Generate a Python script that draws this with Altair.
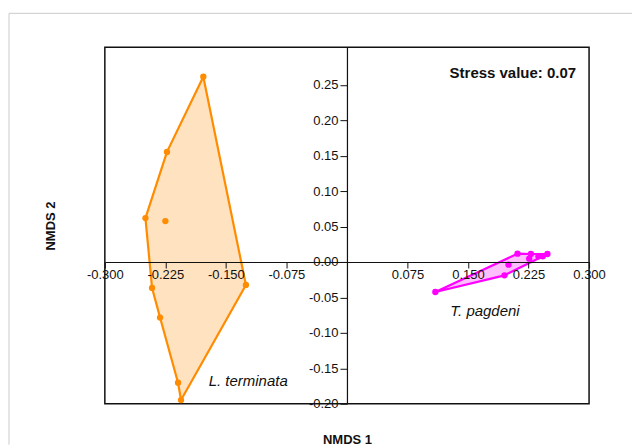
import altair as alt
import pandas as pd

# L. terminata points (NMDS1, NMDS2)
lt_x = [-0.178, -0.223, -0.2497, -0.225, -0.2415, -0.2316, -0.2093, -0.2056, -0.1252]
lt_y = [0.2615, 0.1554, 0.062, 0.0577, -0.0366, -0.0784, -0.1704, -0.1948, -0.0324]
lt_hull = [0, 1, 2, 4, 5, 6, 7, 8, 0]

# T. pagdeni points
tp_x = [0.1095, 0.1952, 0.2002, 0.2113, 0.2279, 0.2258, 0.2373, 0.2427, 0.2484]
tp_y = [-0.0423, -0.0188, -0.0038, 0.0117, 0.0113, 0.0047, 0.008, 0.008, 0.0113]
tp_hull = [0, 3, 4, 8, 1, 0]

x_ticks = [-0.3, -0.225, -0.15, -0.075, 0.075, 0.15, 0.225, 0.3]
y_ticks = [-0.2, -0.15, -0.1, -0.05, 0.0, 0.05, 0.1, 0.15, 0.2, 0.25]

ORANGE = "#ff8c00"
PINK = "#ff00ff"
FONT = "Arial"

W, H = 485, 357
X_DOM = [-0.3, 0.3]
Y_DOM = [-0.2, 0.303]


def hull_df(xs, ys, idx):
    return pd.DataFrame({"x": [xs[i] for i in idx], "y": [ys[i] for i in idx], "o": list(range(len(idx)))})


def pts_df(xs, ys):
    return pd.DataFrame({"x": xs, "y": ys})


y_zero_px = H * (Y_DOM[1] - 0) / (Y_DOM[1] - Y_DOM[0])
x_zero_px = W * (0 - X_DOM[0]) / (X_DOM[1] - X_DOM[0])

xenc = alt.X(
    "x:Q",
    scale=alt.Scale(domain=X_DOM, nice=False, zero=False),
    axis=alt.Axis(
        values=x_ticks, labelExpr="replace(format(datum.value, '.3f'), '\u2212', '-')",
        offset=-(H - y_zero_px), grid=False, title=None,
        domainColor="#111", tickColor="#111", labelColor="#111", labelFont=FONT,
        labelFontSize=13, tickSize=6, labelPadding=1, labelFlush=False,
        labelOverlap=False, zindex=1, domainWidth=1.2,
    ),
)
yenc = alt.Y(
    "y:Q",
    scale=alt.Scale(domain=Y_DOM, nice=False, zero=False),
    axis=alt.Axis(
        values=y_ticks, tickCount=len(y_ticks),
        labelExpr="replace(format(datum.value, '.2f'), '\u2212', '-')",
        offset=-x_zero_px, grid=False, title=None,
        domainColor="#111", tickColor="#111", labelColor="#111", labelFont=FONT,
        labelFontSize=13, tickSize=7, labelPadding=2, labelFlush=False,
        labelOverlap=False, zindex=1, domainWidth=1.2,
    ),
)

one = pd.DataFrame({"t": ["a"]})

frame_top = alt.Chart(one).mark_rule(color="#cccccc", strokeWidth=1).encode(
    x=alt.value(-96), x2=alt.value(528), y=alt.value(-34))
frame_left = alt.Chart(one).mark_rule(color="#cccccc", strokeWidth=1).encode(
    x=alt.value(-96), y=alt.value(-34), y2=alt.value(398))

lt_poly = alt.Chart(hull_df(lt_x, lt_y, lt_hull)).mark_line(
    stroke=ORANGE, fill=ORANGE, fillOpacity=0.25, strokeWidth=2.2, strokeJoin="round"
).encode(x=xenc, y=yenc, order="o:Q")
tp_poly = alt.Chart(hull_df(tp_x, tp_y, tp_hull)).mark_line(
    stroke=PINK, fill=PINK, fillOpacity=0.25, strokeWidth=2.2, strokeJoin="round"
).encode(x=xenc, y=yenc, order="o:Q")

lt_pts = alt.Chart(pts_df(lt_x, lt_y)).mark_circle(color=ORANGE, size=40, opacity=1).encode(x=xenc, y=yenc)
tp_pts = alt.Chart(pts_df(tp_x, tp_y)).mark_circle(color=PINK, size=40, opacity=1).encode(x=xenc, y=yenc)


def txt(s, x, y, **kw):
    return alt.Chart(pd.DataFrame({"t": [s]})).mark_text(font=FONT, color="#111", **kw).encode(
        text="t:N", x=alt.value(x), y=alt.value(y))


stress = txt("Stress value: 0.07", 472, 26, fontSize=15, fontWeight="bold", align="right", baseline="middle")
lt_lab = txt("L. terminata", 104, 334, fontSize=15, fontStyle="italic", align="left", baseline="middle")
tp_lab = txt("T. pagdeni", 346, 264, fontSize=15, fontStyle="italic", align="left", baseline="middle")
xtitle = txt("NMDS 1", 243, 393, fontSize=13, fontWeight="bold", align="center", baseline="middle")
ytitle = txt("NMDS 2", -54, 179, fontSize=13, fontWeight="bold", align="center", baseline="middle", angle=270)

chart = alt.layer(
    frame_top, frame_left, lt_poly, tp_poly, lt_pts, tp_pts, stress, lt_lab, tp_lab, xtitle, ytitle
).properties(
    width=W, height=H, padding={"left": 0, "top": 4, "right": 0, "bottom": 0}
).configure_view(stroke="#111", strokeWidth=1.5)

chart.save("out.html", embed_options={"renderer": "svg", "actions": False})
